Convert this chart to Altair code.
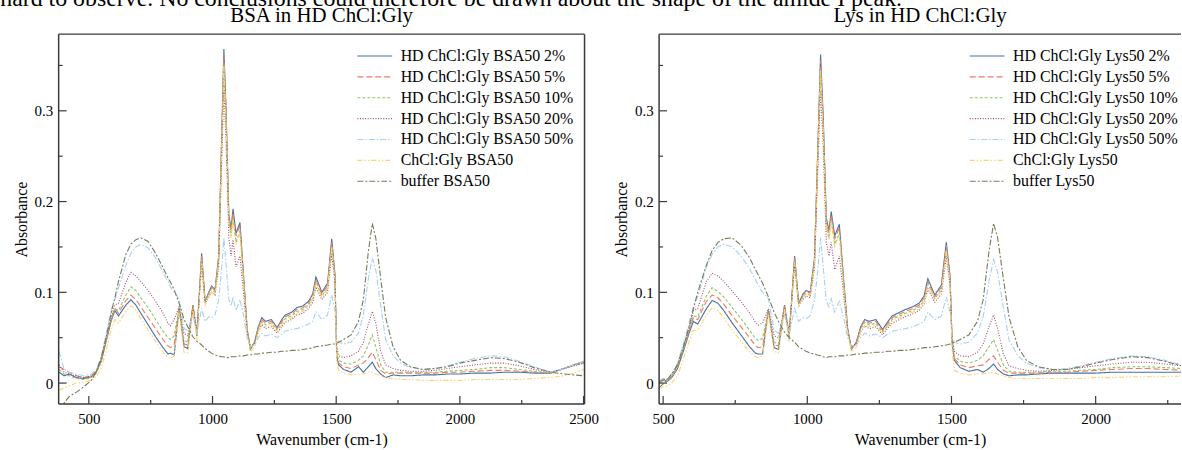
import altair as alt
import pandas as pd

# ---------------- data ----------------
WN_BSA = [380, 400, 420, 450, 480, 510, 530, 550, 570, 590,
          605, 620, 650, 670, 690, 710, 740, 770, 800, 820,
          830, 845, 865, 885, 900, 921, 937, 956, 970, 985,
          996, 1010, 1025, 1035, 1046, 1055, 1066, 1075, 1083, 1095,
          1111, 1125, 1140, 1153, 1170, 1185, 1199, 1215, 1238, 1261,
          1280, 1294, 1320, 1340, 1365, 1388, 1405, 1418, 1442, 1465,
          1482, 1495, 1502, 1510, 1530, 1560, 1590, 1610, 1630, 1646,
          1660, 1680, 1700, 1730, 1760, 1800, 1850, 1900, 1950, 2000,
          2060, 2125, 2180, 2240, 2300, 2367, 2420, 2460, 2503]

BSA_2 = [0.012, 0.008, 0.010, 0.006, 0.005, 0.007, 0.012, 0.024, 0.046, 0.068,
         0.080, 0.074, 0.086, 0.092, 0.086, 0.077, 0.064, 0.051, 0.039, 0.032,
         0.033, 0.031, 0.082, 0.040, 0.038, 0.086, 0.052, 0.143, 0.090, 0.100,
         0.107, 0.103, 0.140, 0.250, 0.368, 0.300, 0.185, 0.170, 0.192, 0.165,
         0.177, 0.120, 0.060, 0.037, 0.045, 0.062, 0.072, 0.068, 0.070, 0.061,
         0.070, 0.075, 0.078, 0.083, 0.085, 0.090, 0.098, 0.117, 0.100, 0.110,
         0.159, 0.120, 0.030, 0.020, 0.015, 0.012, 0.018, 0.012, 0.018, 0.023,
         0.016, 0.010, 0.006, 0.009, 0.008, 0.008, 0.009, 0.009, 0.010, 0.010,
         0.011, 0.011, 0.012, 0.012, 0.011, 0.011, 0.016, 0.020, 0.024]
BSA_5 = [0.018, 0.015, 0.012, 0.008, 0.006, 0.008, 0.013, 0.025, 0.048, 0.070,
         0.082, 0.077, 0.091, 0.097, 0.092, 0.084, 0.072, 0.060, 0.048, 0.041,
         0.039, 0.042, 0.083, 0.043, 0.042, 0.086, 0.054, 0.140, 0.090, 0.100,
         0.106, 0.102, 0.138, 0.245, 0.362, 0.295, 0.182, 0.168, 0.188, 0.162,
         0.174, 0.118, 0.060, 0.038, 0.045, 0.061, 0.070, 0.066, 0.068, 0.060,
         0.068, 0.073, 0.076, 0.081, 0.083, 0.088, 0.096, 0.114, 0.098, 0.108,
         0.155, 0.118, 0.032, 0.022, 0.018, 0.016, 0.020, 0.022, 0.028, 0.034,
         0.026, 0.014, 0.010, 0.011, 0.011, 0.011, 0.011, 0.011, 0.012, 0.012,
         0.013, 0.014, 0.014, 0.013, 0.012, 0.011, 0.016, 0.020, 0.023]
BSA_10 = [0.015, 0.010, 0.008, 0.005, 0.004, 0.006, 0.011, 0.023, 0.047, 0.069,
          0.082, 0.080, 0.097, 0.106, 0.102, 0.094, 0.083, 0.070, 0.057, 0.050,
          0.048, 0.052, 0.083, 0.047, 0.045, 0.085, 0.055, 0.138, 0.090, 0.098,
          0.104, 0.100, 0.135, 0.240, 0.352, 0.288, 0.178, 0.162, 0.182, 0.155,
          0.168, 0.115, 0.058, 0.038, 0.044, 0.060, 0.068, 0.064, 0.066, 0.058,
          0.066, 0.071, 0.074, 0.079, 0.081, 0.086, 0.093, 0.111, 0.096, 0.105,
          0.150, 0.115, 0.035, 0.025, 0.022, 0.021, 0.025, 0.030, 0.042, 0.053,
          0.040, 0.020, 0.012, 0.012, 0.012, 0.012, 0.012, 0.012, 0.013, 0.014,
          0.015, 0.017, 0.017, 0.015, 0.013, 0.011, 0.016, 0.019, 0.022]
BSA_20 = [0.020, 0.012, 0.010, 0.008, 0.006, 0.008, 0.013, 0.026, 0.050, 0.072,
          0.086, 0.088, 0.111, 0.122, 0.118, 0.112, 0.102, 0.090, 0.077, 0.066,
          0.063, 0.070, 0.084, 0.055, 0.052, 0.083, 0.058, 0.130, 0.088, 0.095,
          0.100, 0.097, 0.128, 0.225, 0.325, 0.265, 0.160, 0.140, 0.158, 0.128,
          0.140, 0.100, 0.055, 0.040, 0.043, 0.056, 0.064, 0.060, 0.062, 0.055,
          0.062, 0.067, 0.070, 0.075, 0.077, 0.082, 0.089, 0.106, 0.092, 0.100,
          0.142, 0.110, 0.040, 0.030, 0.028, 0.030, 0.035, 0.045, 0.065, 0.079,
          0.066, 0.035, 0.020, 0.016, 0.014, 0.013, 0.013, 0.014, 0.016, 0.018,
          0.020, 0.022, 0.022, 0.019, 0.015, 0.012, 0.016, 0.019, 0.022]
BSA_50 = [0.035, 0.015, 0.012, 0.010, 0.008, 0.010, 0.015, 0.029, 0.054, 0.080,
          0.092, 0.105, 0.130, 0.143, 0.150, 0.153, 0.149, 0.138, 0.122, 0.112,
          0.106, 0.100, 0.093, 0.060, 0.058, 0.075, 0.055, 0.082, 0.068, 0.073,
          0.072, 0.075, 0.092, 0.120, 0.160, 0.130, 0.092, 0.085, 0.095, 0.080,
          0.092, 0.075, 0.050, 0.040, 0.042, 0.050, 0.055, 0.052, 0.054, 0.050,
          0.054, 0.057, 0.059, 0.060, 0.062, 0.065, 0.068, 0.079, 0.070, 0.075,
          0.097, 0.080, 0.050, 0.045, 0.043, 0.045, 0.055, 0.075, 0.115, 0.138,
          0.125, 0.085, 0.048, 0.030, 0.022, 0.017, 0.015, 0.016, 0.019, 0.023,
          0.027, 0.030, 0.029, 0.024, 0.018, 0.012, 0.016, 0.020, 0.024]
BSA_CH = [-0.008, -0.005, -0.003, 0.000, 0.001, 0.003, 0.007, 0.016, 0.036, 0.058,
          0.070, 0.066, 0.079, 0.085, 0.080, 0.071, 0.058, 0.046, 0.034, 0.028,
          0.027, 0.030, 0.078, 0.034, 0.033, 0.082, 0.047, 0.135, 0.085, 0.095,
          0.100, 0.098, 0.132, 0.238, 0.350, 0.285, 0.175, 0.160, 0.180, 0.152,
          0.165, 0.112, 0.055, 0.034, 0.040, 0.056, 0.066, 0.062, 0.064, 0.056,
          0.064, 0.069, 0.072, 0.077, 0.079, 0.084, 0.092, 0.110, 0.094, 0.104,
          0.150, 0.112, 0.025, 0.014, 0.011, 0.009, 0.010, 0.010, 0.012, 0.012,
          0.010, 0.008, 0.006, 0.005, 0.004, 0.004, 0.003, 0.003, 0.003, 0.003,
          0.004, 0.004, 0.004, 0.004, 0.005, 0.006, 0.008, 0.011, 0.015]
BSA_BUF = [-0.030, -0.022, -0.015, -0.010, -0.004, 0.003, 0.012, 0.028, 0.050, 0.077,
           0.094, 0.112, 0.142, 0.153, 0.158, 0.160, 0.156, 0.143, 0.127, 0.116,
           0.111, 0.103, 0.088, 0.070, 0.062, 0.051, 0.046, 0.042, 0.038, 0.035,
           0.033, 0.031, 0.030, 0.029, 0.029, 0.028, 0.028, 0.029, 0.029, 0.029,
           0.030, 0.030, 0.031, 0.031, 0.032, 0.032, 0.033, 0.033, 0.034, 0.034,
           0.035, 0.035, 0.036, 0.036, 0.037, 0.038, 0.039, 0.040, 0.041, 0.042,
           0.043, 0.043, 0.044, 0.045, 0.048, 0.053, 0.068, 0.092, 0.145, 0.176,
           0.160, 0.115, 0.072, 0.040, 0.025, 0.018, 0.015, 0.016, 0.018, 0.022,
           0.025, 0.028, 0.027, 0.023, 0.017, 0.012, 0.010, 0.009, 0.008]

WN_LYS = [486, 500, 515, 530, 550, 570, 590, 605, 620, 650,
          670, 690, 710, 740, 770, 800, 820, 830, 845, 865,
          885, 900, 921, 937, 956, 970, 985, 996, 1010, 1025,
          1035, 1046, 1055, 1066, 1075, 1083, 1095, 1111, 1125, 1140,
          1153, 1170, 1185, 1199, 1215, 1238, 1261, 1280, 1294, 1320,
          1340, 1365, 1388, 1405, 1418, 1442, 1465, 1482, 1495, 1502,
          1510, 1530, 1560, 1590, 1610, 1630, 1646, 1660, 1680, 1700,
          1730, 1760, 1800, 1850, 1900, 1950, 2000, 2060, 2125, 2180,
          2240, 2300]

LYS_2 = [0.000, 0.003, 0.002, 0.006, 0.016, 0.035, 0.055, 0.068, 0.065, 0.082,
         0.091, 0.088, 0.080, 0.066, 0.053, 0.040, 0.033, 0.032, 0.032, 0.080,
         0.039, 0.037, 0.086, 0.050, 0.140, 0.088, 0.098, 0.102, 0.100, 0.138,
         0.245, 0.362, 0.295, 0.182, 0.168, 0.189, 0.162, 0.175, 0.118, 0.060,
         0.037, 0.045, 0.062, 0.070, 0.068, 0.070, 0.059, 0.068, 0.074, 0.078,
         0.081, 0.084, 0.088, 0.096, 0.115, 0.097, 0.108, 0.155, 0.118, 0.045,
         0.025, 0.017, 0.013, 0.015, 0.012, 0.016, 0.021, 0.015, 0.010, 0.008,
         0.009, 0.009, 0.010, 0.011, 0.011, 0.011, 0.011, 0.012, 0.012, 0.012,
         0.012, 0.012]
LYS_5 = [0.002, 0.004, 0.003, 0.007, 0.018, 0.037, 0.057, 0.072, 0.070, 0.090,
         0.097, 0.094, 0.087, 0.074, 0.062, 0.050, 0.041, 0.039, 0.040, 0.080,
         0.042, 0.041, 0.086, 0.052, 0.138, 0.088, 0.097, 0.101, 0.099, 0.136,
         0.240, 0.355, 0.290, 0.178, 0.165, 0.185, 0.159, 0.171, 0.116, 0.060,
         0.038, 0.045, 0.061, 0.069, 0.066, 0.068, 0.058, 0.066, 0.072, 0.076,
         0.079, 0.082, 0.086, 0.094, 0.112, 0.095, 0.106, 0.152, 0.116, 0.046,
         0.027, 0.020, 0.017, 0.019, 0.020, 0.026, 0.030, 0.023, 0.014, 0.011,
         0.011, 0.011, 0.011, 0.012, 0.012, 0.013, 0.014, 0.015, 0.016, 0.016,
         0.015, 0.014]
LYS_10 = [0.001, 0.003, 0.003, 0.007, 0.018, 0.038, 0.058, 0.074, 0.073, 0.096,
          0.105, 0.101, 0.095, 0.083, 0.071, 0.058, 0.049, 0.047, 0.049, 0.081,
          0.045, 0.043, 0.085, 0.053, 0.136, 0.087, 0.095, 0.099, 0.097, 0.133,
          0.235, 0.345, 0.282, 0.172, 0.160, 0.178, 0.153, 0.165, 0.112, 0.058,
          0.038, 0.044, 0.060, 0.067, 0.064, 0.066, 0.056, 0.064, 0.070, 0.074,
          0.077, 0.080, 0.084, 0.091, 0.109, 0.093, 0.103, 0.147, 0.113, 0.048,
          0.030, 0.024, 0.022, 0.025, 0.030, 0.040, 0.048, 0.036, 0.020, 0.013,
          0.012, 0.012, 0.012, 0.013, 0.013, 0.014, 0.015, 0.017, 0.018, 0.018,
          0.017, 0.016]
LYS_20 = [0.002, 0.004, 0.004, 0.009, 0.020, 0.040, 0.060, 0.080, 0.082, 0.112,
          0.121, 0.118, 0.112, 0.101, 0.090, 0.077, 0.067, 0.064, 0.066, 0.082,
          0.052, 0.050, 0.083, 0.056, 0.130, 0.085, 0.092, 0.096, 0.094, 0.126,
          0.222, 0.322, 0.262, 0.155, 0.140, 0.155, 0.125, 0.140, 0.100, 0.055,
          0.040, 0.043, 0.056, 0.063, 0.060, 0.062, 0.053, 0.061, 0.066, 0.070,
          0.073, 0.076, 0.080, 0.087, 0.104, 0.089, 0.098, 0.140, 0.108, 0.050,
          0.035, 0.030, 0.029, 0.034, 0.043, 0.062, 0.075, 0.060, 0.032, 0.019,
          0.016, 0.014, 0.013, 0.014, 0.015, 0.017, 0.019, 0.021, 0.023, 0.023,
          0.021, 0.019]
LYS_50 = [0.003, 0.005, 0.005, 0.010, 0.022, 0.043, 0.066, 0.085, 0.095, 0.128,
          0.142, 0.150, 0.153, 0.150, 0.140, 0.126, 0.114, 0.108, 0.100, 0.093,
          0.058, 0.055, 0.075, 0.054, 0.082, 0.068, 0.072, 0.071, 0.074, 0.092,
          0.120, 0.160, 0.128, 0.090, 0.084, 0.093, 0.078, 0.090, 0.073, 0.050,
          0.040, 0.042, 0.050, 0.055, 0.052, 0.054, 0.050, 0.054, 0.057, 0.059,
          0.060, 0.062, 0.065, 0.068, 0.078, 0.070, 0.074, 0.095, 0.078, 0.050,
          0.045, 0.043, 0.045, 0.055, 0.073, 0.112, 0.136, 0.122, 0.083, 0.047,
          0.030, 0.022, 0.017, 0.015, 0.016, 0.019, 0.023, 0.027, 0.030, 0.029,
          0.025, 0.020]
LYS_CH = [-0.006, -0.004, -0.003, 0.000, 0.008, 0.026, 0.046, 0.058, 0.058, 0.075,
          0.083, 0.080, 0.072, 0.058, 0.046, 0.034, 0.029, 0.028, 0.030, 0.076,
          0.035, 0.033, 0.082, 0.046, 0.133, 0.084, 0.094, 0.098, 0.096, 0.130,
          0.235, 0.345, 0.280, 0.172, 0.158, 0.178, 0.150, 0.163, 0.110, 0.055,
          0.034, 0.040, 0.056, 0.064, 0.062, 0.064, 0.055, 0.063, 0.068, 0.072,
          0.075, 0.078, 0.082, 0.090, 0.108, 0.092, 0.102, 0.146, 0.110, 0.035,
          0.014, 0.011, 0.009, 0.010, 0.010, 0.011, 0.012, 0.010, 0.008, 0.006,
          0.005, 0.005, 0.005, 0.005, 0.005, 0.005, 0.006, 0.006, 0.007, 0.007,
          0.007, 0.008]
LYS_BUF = [-0.005, -0.001, 0.004, 0.010, 0.020, 0.040, 0.062, 0.082, 0.100, 0.130,
           0.146, 0.155, 0.159, 0.160, 0.152, 0.138, 0.125, 0.119, 0.110, 0.095,
           0.078, 0.068, 0.056, 0.050, 0.045, 0.040, 0.037, 0.035, 0.033, 0.032,
           0.031, 0.030, 0.029, 0.028, 0.029, 0.029, 0.029, 0.030, 0.030, 0.031,
           0.031, 0.032, 0.032, 0.033, 0.033, 0.034, 0.034, 0.035, 0.035, 0.036,
           0.036, 0.037, 0.038, 0.039, 0.039, 0.040, 0.041, 0.042, 0.043, 0.044,
           0.045, 0.048, 0.053, 0.068, 0.092, 0.145, 0.176, 0.160, 0.115, 0.072,
           0.040, 0.025, 0.018, 0.015, 0.015, 0.018, 0.022, 0.026, 0.029, 0.028,
           0.024, 0.019]

BSA_NAMES = ["HD ChCl:Gly BSA50 2%", "HD ChCl:Gly BSA50 5%", "HD ChCl:Gly BSA50 10%",
             "HD ChCl:Gly BSA50 20%", "HD ChCl:Gly BSA50 50%", "ChCl:Gly BSA50", "buffer BSA50"]
LYS_NAMES = ["HD ChCl:Gly Lys50 2%", "HD ChCl:Gly Lys50 5%", "HD ChCl:Gly Lys50 10%",
             "HD ChCl:Gly Lys50 20%", "HD ChCl:Gly Lys50 50%", "ChCl:Gly Lys50", "buffer Lys50"]

X_MAJOR = [500, 1000, 1500, 2000, 2500]
X_MINOR = [750, 1250, 1750, 2250]
Y_MAJOR = [0.0, 0.1, 0.2, 0.3]
Y_MINOR = [0.05, 0.15, 0.25, 0.35]

TOP_TEXT = "hard to observe. No conclusions could therefore be drawn about the shape of the amide I peak."

# ---------------- styling ----------------
COLORS = ["#446fa8", "#f07a5e", "#8fc466", "#a24a72", "#a6d0f2", "#ffd36e", "#777b58"]
DASHES = [[1, 0], [6, 3], [3, 2], [1, 1.6], [6, 2, 1.5, 2], [5, 2, 1.5, 2, 1.5, 2], [6, 2, 2, 2]]
FRAME = "#3a3a3a"
FONT = "Liberation Serif"
H = 372
Y_DOMAIN = [-0.023, 0.3845]


def long_table(wn, names, series):
    rows = []
    for name, vals in zip(names, series):
        for w, v in zip(wn, vals):
            rows.append({"wn": w, "A": v, "series": name})
    return pd.DataFrame(rows)


def panel(df, names, title, xdomain, width, lx, ly, right_side):
    xs = alt.Scale(domain=xdomain, nice=False, zero=False)
    ys = alt.Scale(domain=Y_DOMAIN, nice=False, zero=False)
    xenc = alt.X("wn:Q", scale=xs,
                 axis=alt.Axis(values=X_MAJOR, format="d", ticks=False, domain=False, grid=False,
                               title="Wavenumber (cm-1)", labelPadding=8, titlePadding=5,
                               labelFlush=False))
    yenc = alt.Y("A:Q", scale=ys,
                 axis=alt.Axis(values=Y_MAJOR, format=".1~f", ticks=False, domain=False, grid=False,
                               title="Absorbance", labelPadding=6, titlePadding=5))
    leg = alt.Legend(title=None, orient="none", legendX=lx, legendY=ly,
                     symbolType="M-5,0H5", symbolSize=49, symbolStrokeWidth=1.2,
                     labelFont=FONT, labelFontSize=16, labelColor="black", labelLimit=400,
                     rowPadding=5, labelOffset=18, padding=0)
    lines = alt.Chart(df).mark_line(clip=True, strokeWidth=1.1).encode(
        x=xenc, y=yenc,
        color=alt.Color("series:N", scale=alt.Scale(domain=names, range=COLORS), legend=leg),
        strokeDash=alt.StrokeDash("series:N", scale=alt.Scale(domain=names, range=DASHES), legend=leg),
    )
    xmaj = alt.Chart(pd.DataFrame({"wn": [v for v in X_MAJOR if xdomain[0] < v < xdomain[1]]})).mark_rule(
        color=FRAME, strokeWidth=1.2).encode(x=alt.X("wn:Q", scale=xs), y=alt.value(H), y2=alt.value(H - 8))
    xmin = alt.Chart(pd.DataFrame({"wn": [v for v in X_MINOR if xdomain[0] < v < xdomain[1]]})).mark_rule(
        color=FRAME, strokeWidth=1.2).encode(x=alt.X("wn:Q", scale=xs), y=alt.value(H), y2=alt.value(H - 4))
    ymaj = alt.Chart(pd.DataFrame({"A": Y_MAJOR})).mark_rule(color=FRAME, strokeWidth=1.2).encode(
        y=alt.Y("A:Q", scale=ys), x=alt.value(0), x2=alt.value(8))
    ymin = alt.Chart(pd.DataFrame({"A": Y_MINOR})).mark_rule(color=FRAME, strokeWidth=1.2).encode(
        y=alt.Y("A:Q", scale=ys), x=alt.value(0), x2=alt.value(4))
    one = pd.DataFrame({"k": [0]})
    frame_l = alt.Chart(one).mark_rule(color=FRAME, strokeWidth=1.5).encode(
        x=alt.value(0), y=alt.value(0), y2=alt.value(H))
    frame_t = alt.Chart(one).mark_rule(color=FRAME, strokeWidth=1.5).encode(
        x=alt.value(0), x2=alt.value(width), y=alt.value(0))
    frame_b = alt.Chart(one).mark_rule(color=FRAME, strokeWidth=1.5).encode(
        x=alt.value(0), x2=alt.value(width), y=alt.value(H))
    layers = [lines, xmaj, xmin, ymaj, ymin, frame_l, frame_t, frame_b]
    if right_side:
        layers.append(alt.Chart(one).mark_rule(color=FRAME, strokeWidth=1.5).encode(
            x=alt.value(width), y=alt.value(0), y2=alt.value(H)))
    return alt.layer(*layers).properties(
        width=width, height=H,
        title=alt.TitleParams(title, font=FONT, fontSize=21, fontWeight="normal", color="black", offset=7),
    )


bsa = long_table(WN_BSA, BSA_NAMES, [BSA_2, BSA_5, BSA_10, BSA_20, BSA_50, BSA_CH, BSA_BUF])
lys = long_table(WN_LYS, LYS_NAMES, [LYS_2, LYS_5, LYS_10, LYS_20, LYS_50, LYS_CH, LYS_BUF])

left = panel(bsa, BSA_NAMES, "BSA in HD ChCl:Gly", [378, 2504], 529, 310, 14, True)
right = panel(lys, LYS_NAMES, "Lys in HD ChCl:Gly", [486, 2296], 525, 322, 14, False)

chart = alt.hconcat(
    left, right, spacing=14,
    title=alt.TitleParams(TOP_TEXT, font=FONT, fontSize=24, fontWeight="normal", color="black",
                          anchor="start", dx=-13, offset=-5),
).resolve_scale(
    x="independent", y="independent", color="independent", strokeDash="independent"
).resolve_legend(color="independent", strokeDash="independent").properties(
    padding={"left": 0, "top": -15, "right": 0, "bottom": 0}
).configure_view(strokeWidth=0).configure_axis(
    labelFont=FONT, labelFontSize=15, labelColor="black",
    titleFont=FONT, titleFontSize=16, titleFontWeight="normal", titleColor="black",
)

chart.save("out.html", embed_options={"renderer": "svg", "actions": False})
